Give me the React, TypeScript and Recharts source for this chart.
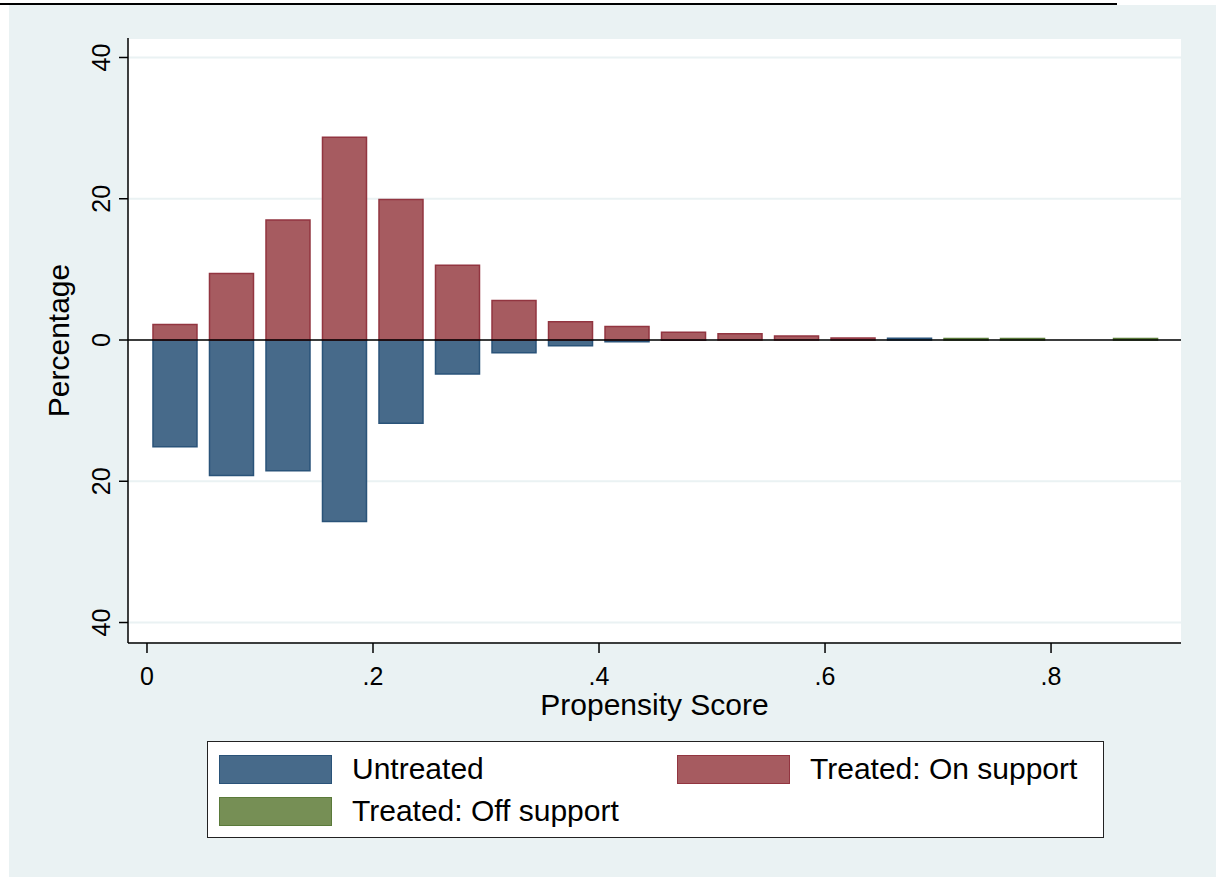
import React from "react";
import {
  Bar,
  CartesianGrid,
  ComposedChart,
  ReferenceLine,
  XAxis,
  YAxis,
} from "recharts";

// propensity score bins (midpoints, width .05)
const binMids = [
  0.025, 0.075, 0.125, 0.175, 0.225, 0.275, 0.325, 0.375, 0.425, 0.475, 0.525,
  0.575, 0.625, 0.675, 0.725, 0.775, 0.825, 0.875,
];
const untreated = [
  -15.1, -19.2, -18.5, -25.7, -11.8, -4.8, -1.8, -0.8, -0.25, -0.05, 0, 0, 0,
  0.25, 0, 0, 0, 0,
];
const treatedOn = [
  2.2, 9.4, 17.0, 28.7, 19.9, 10.6, 5.6, 2.6, 1.9, 1.1, 0.9, 0.55, 0.3, 0, 0, 0,
  0, 0,
];
const treatedOff = [0, 0, 0, 0, 0, 0, 0, 0, 0, 0, 0, 0, 0, 0, 0.2, 0.2, 0, 0.2];

const xTicks = [0, 0.2, 0.4, 0.6, 0.8];
const yTicks = [-40, -20, 0, 20, 40];

const data = binMids.map((x, i) => ({
  x,
  untreated: untreated[i],
  treatedOn: treatedOn[i],
  treatedOff: treatedOff[i],
}));

const FONT = "'Liberation Sans', Arial, sans-serif";
const BG = "#EAF2F3";
const BLUE = "#476A8A";
const BLUE_EDGE = "#2A5379";
const RED = "#A65B60";
const RED_EDGE = "#923540";
const GREEN = "#768F55";
const GREEN_EDGE = "#5A7A3A";

const fmtX = (v: number) => (v === 0 ? "0" : String(v).replace("0.", "."));

function XTick({ x, y, payload }: any) {
  return (
    <text x={x} y={y} dy="0.72em" textAnchor="middle" fontSize={25} fill="#000" fontFamily={FONT}>
      {fmtX(payload.value)}
    </text>
  );
}

function YTick({ x, y, payload }: any) {
  return (
    <text
      x={x}
      y={y}
      transform={`rotate(-90 ${x} ${y})`}
      textAnchor="middle"
      fontSize={25}
      fill="#000"
      fontFamily={FONT}
    >
      {Math.abs(payload.value)}
    </text>
  );
}

function LegendItem({ left, top, fill, edge, label }: any) {
  return (
    <>
      <div
        style={{
          position: "absolute",
          left,
          top,
          width: 113,
          height: 29,
          boxSizing: "border-box",
          background: fill,
          border: `1.5px solid ${edge}`,
        }}
      />
      <div
        style={{
          position: "absolute",
          left: left + 133,
          top: top - 3,
          fontSize: 30,
          lineHeight: "34px",
          color: "#000",
        }}
      >
        {label}
      </div>
    </>
  );
}

export default function App() {
  return (
    <div style={{ position: "relative", width: 1216, height: 877, background: "#fff", fontFamily: FONT }}>
      <style>{`body{margin:0}`}</style>
      <div style={{ position: "absolute", left: 9, top: 5, right: 0, bottom: 0, background: BG }} />
      <div style={{ position: "absolute", left: 0, top: 3, width: 1117, height: 2, background: "#000" }} />
      <div style={{ position: "absolute", left: 0, top: 0 }}>
        <ComposedChart
          width={1216}
          height={877}
          data={data}
          stackOffset="sign"
          margin={{ top: 38, right: 35, bottom: 194, left: 68 }}
        >
          <CartesianGrid vertical={false} stroke={BG} strokeWidth={2} fill="#ffffff" />
          <XAxis
            dataKey="x"
            type="number"
            domain={[-0.0168, 0.915]}
            allowDataOverflow
            ticks={xTicks}
            height={40}
            tickSize={10}
            tickMargin={14}
            tick={<XTick />}
            axisLine={{ stroke: "#000", strokeWidth: 1.5 }}
            tickLine={{ stroke: "#000", strokeWidth: 1.5 }}
            label={{
              content: ({ viewBox }: any) => {
                const vb = viewBox || { x: 128, y: 643, width: 1053 };
                return (
                  <text x={vb.x + vb.width / 2} y={vb.y + 72} textAnchor="middle" fontSize={30} fill="#000" fontFamily={FONT}>
                    Propensity Score
                  </text>
                );
              },
            }}
          />
          <YAxis
            type="number"
            domain={[-42.9, 42.76]}
            allowDataOverflow
            ticks={yTicks}
            width={60}
            tickSize={9}
            tickMargin={9}
            tick={<YTick />}
            axisLine={{ stroke: "#000", strokeWidth: 1.5 }}
            tickLine={{ stroke: "#000", strokeWidth: 1.5 }}
            label={{
              content: ({ viewBox }: any) => {
                const vb = viewBox || { x: 68, y: 38, height: 605 };
                const cx = 69;
                const cy = vb.y + vb.height / 2;
                return (
                  <text
                    x={cx}
                    y={cy}
                    transform={`rotate(-90 ${cx} ${cy})`}
                    textAnchor="middle"
                    fontSize={30}
                    fill="#000"
                    fontFamily={FONT}
                  >
                    Percentage
                  </text>
                );
              },
            }}
          />
          <Bar dataKey="untreated" stackId="a" barSize={44} fill={BLUE} stroke={BLUE_EDGE} strokeWidth={1.5} isAnimationActive={false} />
          <Bar dataKey="treatedOn" stackId="a" barSize={44} fill={RED} stroke={RED_EDGE} strokeWidth={1.5} isAnimationActive={false} />
          <Bar dataKey="treatedOff" stackId="a" barSize={44} fill={GREEN} stroke={GREEN_EDGE} strokeWidth={1.5} isAnimationActive={false} />
          <ReferenceLine y={0} stroke="#000" strokeWidth={1.5} />
        </ComposedChart>
      </div>
      <div
        style={{
          position: "absolute",
          left: 207,
          top: 741,
          width: 897,
          height: 97,
          boxSizing: "border-box",
          background: "#fff",
          border: "1.5px solid #222",
        }}
      >
        <LegendItem left={11} top={13} fill={BLUE} edge={BLUE_EDGE} label="Untreated" />
        <LegendItem left={469} top={13} fill={RED} edge={RED_EDGE} label="Treated: On support" />
        <LegendItem left={11} top={55} fill={GREEN} edge={GREEN_EDGE} label="Treated: Off support" />
      </div>
    </div>
  );
}
